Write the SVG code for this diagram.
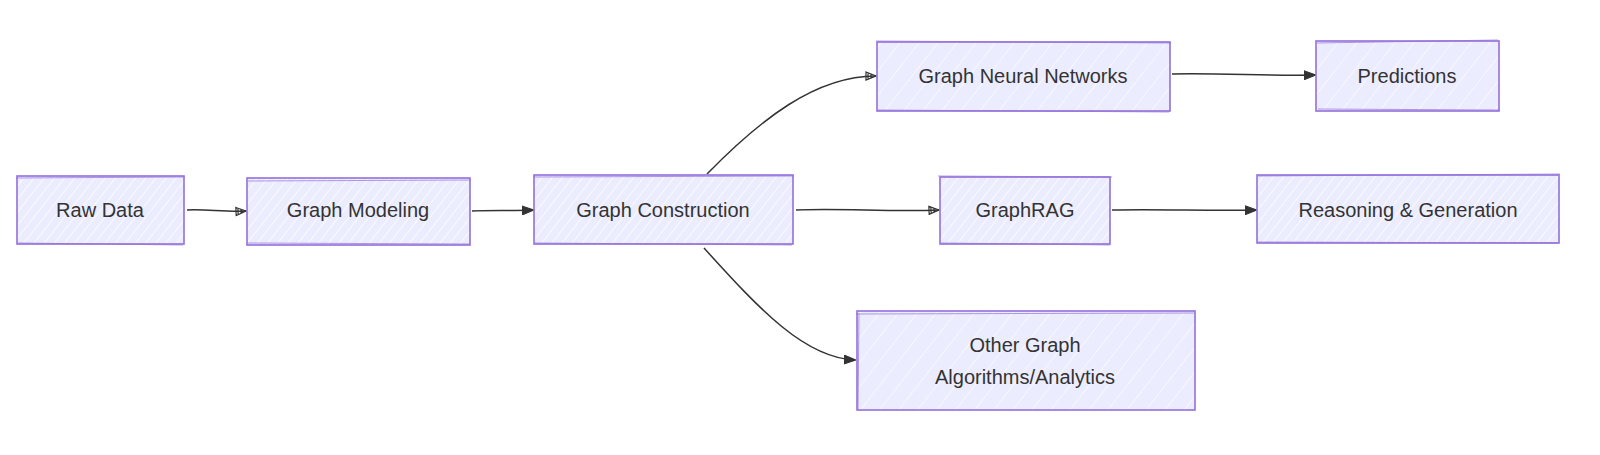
<svg xmlns="http://www.w3.org/2000/svg" width="1600" height="455" viewBox="0 0 1600 455">
<defs>
<pattern id="hatch" patternUnits="userSpaceOnUse" width="8" height="8" patternTransform="rotate(38)">
<rect width="8" height="8" fill="#ECECFF"/>
<line x1="0" y1="0" x2="0" y2="8" stroke="#ffffff" stroke-width="1.4"/>
</pattern>
<pattern id="hatch2" patternUnits="userSpaceOnUse" width="15" height="15" patternTransform="rotate(38)">
<rect width="15" height="15" fill="#ECECFF"/>
<line x1="0" y1="0" x2="0" y2="15" stroke="#ffffff" stroke-width="1.2"/>
</pattern>
<marker id="open" viewBox="0 0 12 10" refX="11" refY="5" markerWidth="12" markerHeight="10" markerUnits="userSpaceOnUse" orient="auto">
<path d="M1,1 L11,5 L1,9 Z M3,2.5 L3,7.5 M6,3.5 L6,6.5" fill="none" stroke="#333" stroke-width="1.2"/>
</marker>
<marker id="solid" viewBox="0 0 12 10" refX="11" refY="5" markerWidth="12" markerHeight="10" markerUnits="userSpaceOnUse" orient="auto">
<path d="M0,0.5 L12,5 L0,9.5 Z" fill="#333" stroke="#333" stroke-width="1"/>
</marker>
</defs>
<style>
.box{stroke:#9370DB;stroke-width:1.6;}
.sk{fill:none;stroke:#9370DB;stroke-width:1;stroke-opacity:0.7;}
.lbl{font-family:"Liberation Sans","DejaVu Sans",sans-serif;font-size:20px;fill:#333;text-anchor:middle;dominant-baseline:central;}
.edge{fill:none;stroke:#333;stroke-width:1.5;}
</style>
<rect width="1600" height="455" fill="#ffffff"/>
<g id="connectors">
<path class="edge" d="M187,210 C205,209 225,212 246,211" marker-end="url(#open)"/>
<path class="edge" d="M472,211 C490,210 510,211 533,210" marker-end="url(#solid)"/>
<path class="edge" d="M707,174 C760,120 815,76 876,76" marker-end="url(#open)"/>
<path class="edge" d="M796,210 C840,208 890,212 939,210" marker-end="url(#open)"/>
<path class="edge" d="M704,248 C760,310 805,358 855,360" marker-end="url(#solid)"/>
<path class="edge" d="M1172,74 C1220,73 1270,76 1315,75" marker-end="url(#solid)"/>
<path class="edge" d="M1112,210 C1160,209 1210,211 1256,210" marker-end="url(#solid)"/>
</g>
<g id="raw-data">
<rect class="box" x="17" y="176" width="167" height="68" fill="url(#hatch)"/>
<path class="sk" d="M16,178 L185,177 M18,243 L183,245"/>
<text class="lbl" x="100" y="210">Raw Data</text>
</g>
<g id="graph-modeling">
<rect class="box" x="247" y="178" width="223" height="67" fill="url(#hatch)"/>
<path class="sk" d="M248,181 L471,180 M247,243 L470,244"/>
<text class="lbl" x="358" y="210">Graph Modeling</text>
</g>
<g id="graph-construction">
<rect class="box" x="534" y="175" width="259" height="69" fill="url(#hatch)"/>
<path class="sk" d="M533,177 L794,176 M535,243 L792,245"/>
<text class="lbl" x="663" y="210">Graph Construction</text>
</g>
<g id="gnn">
<rect class="box" x="877" y="42" width="293" height="69" fill="url(#hatch2)"/>
<path class="sk" d="M876,41 L1171,43 M878,110 L1169,112"/>
<text class="lbl" x="1023" y="76">Graph Neural Networks</text>
</g>
<g id="predictions">
<rect class="box" x="1316" y="41" width="183" height="70" fill="url(#hatch2)"/>
<path class="sk" d="M1317,43 L1498,40 M1318,109 L1500,110"/>
<text class="lbl" x="1407" y="76">Predictions</text>
</g>
<g id="graphrag">
<rect class="box" x="940" y="177" width="170" height="67" fill="url(#hatch)"/>
<path class="sk" d="M938,176 L1112,177 M941,243 L1110,245"/>
<text class="lbl" x="1025" y="210">GraphRAG</text>
</g>
<g id="reasoning">
<rect class="box" x="1257" y="175" width="302" height="68" fill="url(#hatch)"/>
<path class="sk" d="M1258,176 L1560,174 M1258,242 L1558,243"/>
<text class="lbl" x="1408" y="210">Reasoning &amp; Generation</text>
</g>
<g id="other">
<rect class="box" x="857" y="311" width="338" height="99" fill="url(#hatch2)"/>
<path class="sk" d="M856,314 L1194,313 M859,313 L858,410"/>
<text class="lbl" x="1025" y="345">Other Graph</text>
<text class="lbl" x="1025" y="377">Algorithms/Analytics</text>
</g>
</svg>
